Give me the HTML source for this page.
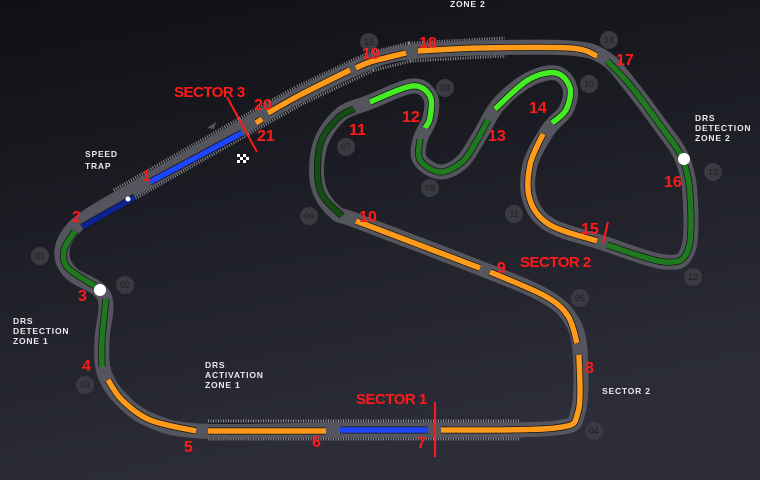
<!DOCTYPE html>
<html><head><meta charset="utf-8"><style>
html,body{margin:0;padding:0;width:760px;height:480px;overflow:hidden;background:#16171c}
svg{display:block}
text{font-family:"Liberation Sans",sans-serif;font-weight:bold}
.n{fill:#ff1a1a;font-size:16px}
.s{fill:#ff1a1a;font-size:15px;letter-spacing:-0.5px}
.w{fill:#e8e8ee;font-size:8.5px;letter-spacing:0.8px}
.c circle{fill:#3a3b42}
.c text{fill:#1e1f24;font-size:9px;font-weight:normal;text-anchor:middle}
</style></head><body>
<svg id="s" width="760" height="480" viewBox="0 0 760 480" xmlns="http://www.w3.org/2000/svg">
<defs><linearGradient id="bg" x1="0" y1="0" x2="0.3" y2="1"><stop offset="0" stop-color="#0f1014"/><stop offset="1" stop-color="#2c2d38"/></linearGradient></defs>
<rect width="760" height="480" fill="url(#bg)"/>
<g id="curbs"></g>
<g id="track"></g>
<g id="segs"></g>
<g stroke="#ff1a1a" stroke-width="2"><line x1="227" y1="97" x2="257" y2="152"/><line x1="603" y1="243" x2="608" y2="222"/><line x1="435" y1="402" x2="435" y2="457"/></g>
<circle cx="100" cy="290" r="6" fill="#fff"/><circle cx="684" cy="159" r="6" fill="#fff"/><circle cx="128" cy="199" r="2.5" fill="#fff"/>
<path d="M207 128 L216 122 L214 129 Z" fill="#555"/>
<g fill="#fff"><rect x="237" y="154" width="3" height="3"/><rect x="243" y="154" width="3" height="3"/><rect x="240" y="157" width="3" height="3"/><rect x="246" y="157" width="3" height="3"/><rect x="237" y="160" width="3" height="3"/><rect x="243" y="160" width="3" height="3"/></g>
<g class="c">
<circle cx="40" cy="256" r="9"/><text x="40" y="259">01</text>
<circle cx="125" cy="285" r="9"/><text x="125" y="288">02</text>
<circle cx="85" cy="385" r="9"/><text x="85" y="388">03</text>
<circle cx="594" cy="431" r="9"/><text x="594" y="434">04</text>
<circle cx="580" cy="298" r="9"/><text x="580" y="301">05</text>
<circle cx="309" cy="216" r="9"/><text x="309" y="219">06</text>
<circle cx="346" cy="147" r="9"/><text x="346" y="150">07</text>
<circle cx="445" cy="88" r="9"/><text x="445" y="91">08</text>
<circle cx="430" cy="188" r="9"/><text x="430" y="191">09</text>
<circle cx="589" cy="84" r="9"/><text x="589" y="87">10</text>
<circle cx="514" cy="214" r="9"/><text x="514" y="217">11</text>
<circle cx="693" cy="277" r="9"/><text x="693" y="280">12</text>
<circle cx="713" cy="172" r="9"/><text x="713" y="175">13</text>
<circle cx="609" cy="40" r="9"/><text x="609" y="43">14</text>
<circle cx="369" cy="42" r="9"/><text x="369" y="45">15</text>
</g>
<g class="n">
<text x="142" y="181">1</text><text x="72" y="222">2</text><text x="78" y="301">3</text><text x="82" y="371">4</text>
<text x="184" y="452">5</text><text x="312" y="447">6</text><text x="417" y="448">7</text><text x="585" y="373">8</text>
<text x="497" y="273">9</text><text x="359" y="222">10</text><text x="349" y="135">11</text><text x="402" y="122">12</text>
<text x="488" y="141">13</text><text x="529" y="113">14</text><text x="581" y="234">15</text><text x="664" y="187">16</text>
<text x="616" y="65">17</text><text x="419" y="48">18</text><text x="362" y="59">19</text><text x="254" y="110">20</text><text x="257" y="141">21</text>
</g>
<text class="s" x="174" y="97">SECTOR 3</text>
<text class="s" x="520" y="267">SECTOR 2</text>
<text class="s" x="356" y="404">SECTOR 1</text>
<g class="w">
<text x="450" y="7">ZONE 2</text>
<text x="85" y="157">SPEED</text><text x="85" y="169">TRAP</text>
<text x="695" y="121">DRS</text><text x="695" y="131">DETECTION</text><text x="695" y="141">ZONE 2</text>
<text x="13" y="324">DRS</text><text x="13" y="334">DETECTION</text><text x="13" y="344">ZONE 1</text>
<text x="205" y="368">DRS</text><text x="205" y="378">ACTIVATION</text><text x="205" y="388">ZONE 1</text>
<text x="602" y="394">SECTOR 2</text>
</g>
</svg>
<script>
function sp(p,closed){var n=p.length,d="M"+p[0][0]+" "+p[0][1];var g=function(i){if(closed)return p[(i+n)%n];return p[Math.max(0,Math.min(n-1,i))];};
var m=closed?n:n-1;for(var i=0;i<m;i++){var p0=g(i-1),p1=g(i),p2=g(i+1),p3=g(i+2);
d+=" C"+(p1[0]+(p2[0]-p0[0])/6).toFixed(1)+" "+(p1[1]+(p2[1]-p0[1])/6).toFixed(1)+" "+(p2[0]-(p3[0]-p1[0])/6).toFixed(1)+" "+(p2[1]-(p3[1]-p1[1])/6).toFixed(1)+" "+p2[0]+" "+p2[1];}
return d+(closed?"Z":"");}
var NS="http://www.w3.org/2000/svg";
function add(g,d,c,w,da){var e=document.createElementNS(NS,"path");e.setAttribute("d",d);e.setAttribute("fill","none");e.setAttribute("stroke",c);e.setAttribute("stroke-width",w);e.setAttribute("stroke-linejoin","round");if(da)e.setAttribute("stroke-dasharray",da);document.getElementById(g).appendChild(e);}
var T=[[255,120],[150,180],[90,215],[68,235],[62,256],[72,274],[98,289],[106,305],[102,340],[104,372],[120,398],[150,420],[200,431],[330,430],[440,430],[555,428],[578,412],[580,350],[570,318],[545,296],[490,272],[360,222],[335,212],[318,185],[320,145],[340,115],[370,102],[412,86],[430,96],[430,118],[420,140],[420,160],[440,172],[462,162],[480,135],[498,105],[528,80],[556,73],[570,88],[566,110],[548,130],[530,165],[530,200],[550,225],[600,242],[665,262],[688,250],[690,195],[682,158],[660,125],[630,85],[605,58],[570,48],[480,48],[410,52],[370,62],[300,95]];
add("curbs","M118 198 L255 120 L300 95 L370 62 L410 52 L505 47","#8a8b92",21,"1,1.5");
add("curbs","M208 430 L520 430","#8a8b92",21,"1,1.5");
add("curbs","M118 198 L255 120 L300 95 L370 62 L410 52 L505 47","#1c1d22",15);
add("curbs","M208 430 L520 430","#1c1d22",15);
add("track",sp(T,true),"#55565d",15);
var S=[
[[[242,133],[150,182]],"#1e46ff"],
[[[135,197],[82,227]],"#0c2390"],
[[[75,231],[64,250],[68,268],[95,286]],"#1f7a1f"],
[[[106,299],[102,340],[102,367]],"#1f7a1f"],
[[[108,380],[122,400],[150,420],[196,431]],"#ff9a1a"],
[[[208,431],[326,431]],"#ff9a1a"],
[[[340,430],[428,430]],"#1e46ff"],
[[[441,430],[555,428],[578,412],[579,355]],"#ff9a1a"],
[[[577,343],[568,316],[545,296],[490,272]],"#ff9a1a"],
[[[480,268],[356,221]],"#ff9a1a"],
[[[342,216],[320,190],[320,145],[338,118],[354,109]],"#144d14"],
[[[370,102],[412,86],[430,96],[430,118],[425,128]],"#44ee22"],
[[[420,139],[420,160],[440,172],[462,162],[476,142],[488,120]],"#1f7a1f"],
[[[495,109],[528,80],[556,73],[570,88],[566,110],[552,123]],"#44ee22"],
[[[543,134],[530,165],[530,200],[550,225],[597,241]],"#ff9a1a"],
[[[607,245],[665,262],[688,250],[690,195],[682,158],[660,125],[630,85],[607,61]],"#1f7a1f"],
[[[597,56],[570,48],[480,48],[418,51]],"#ff9a1a"],
[[[406,53],[370,62],[356,68]],"#ff9a1a"],
[[[350,70],[300,95],[268,113]],"#ff9a1a"],
[[[262,119],[256,123]],"#ff9a1a"]];
S.forEach(function(s){add("segs",sp(s[0],false),"#141416",7);add("segs",sp(s[0],false),s[1],5.5);});
</script>
</body></html>
